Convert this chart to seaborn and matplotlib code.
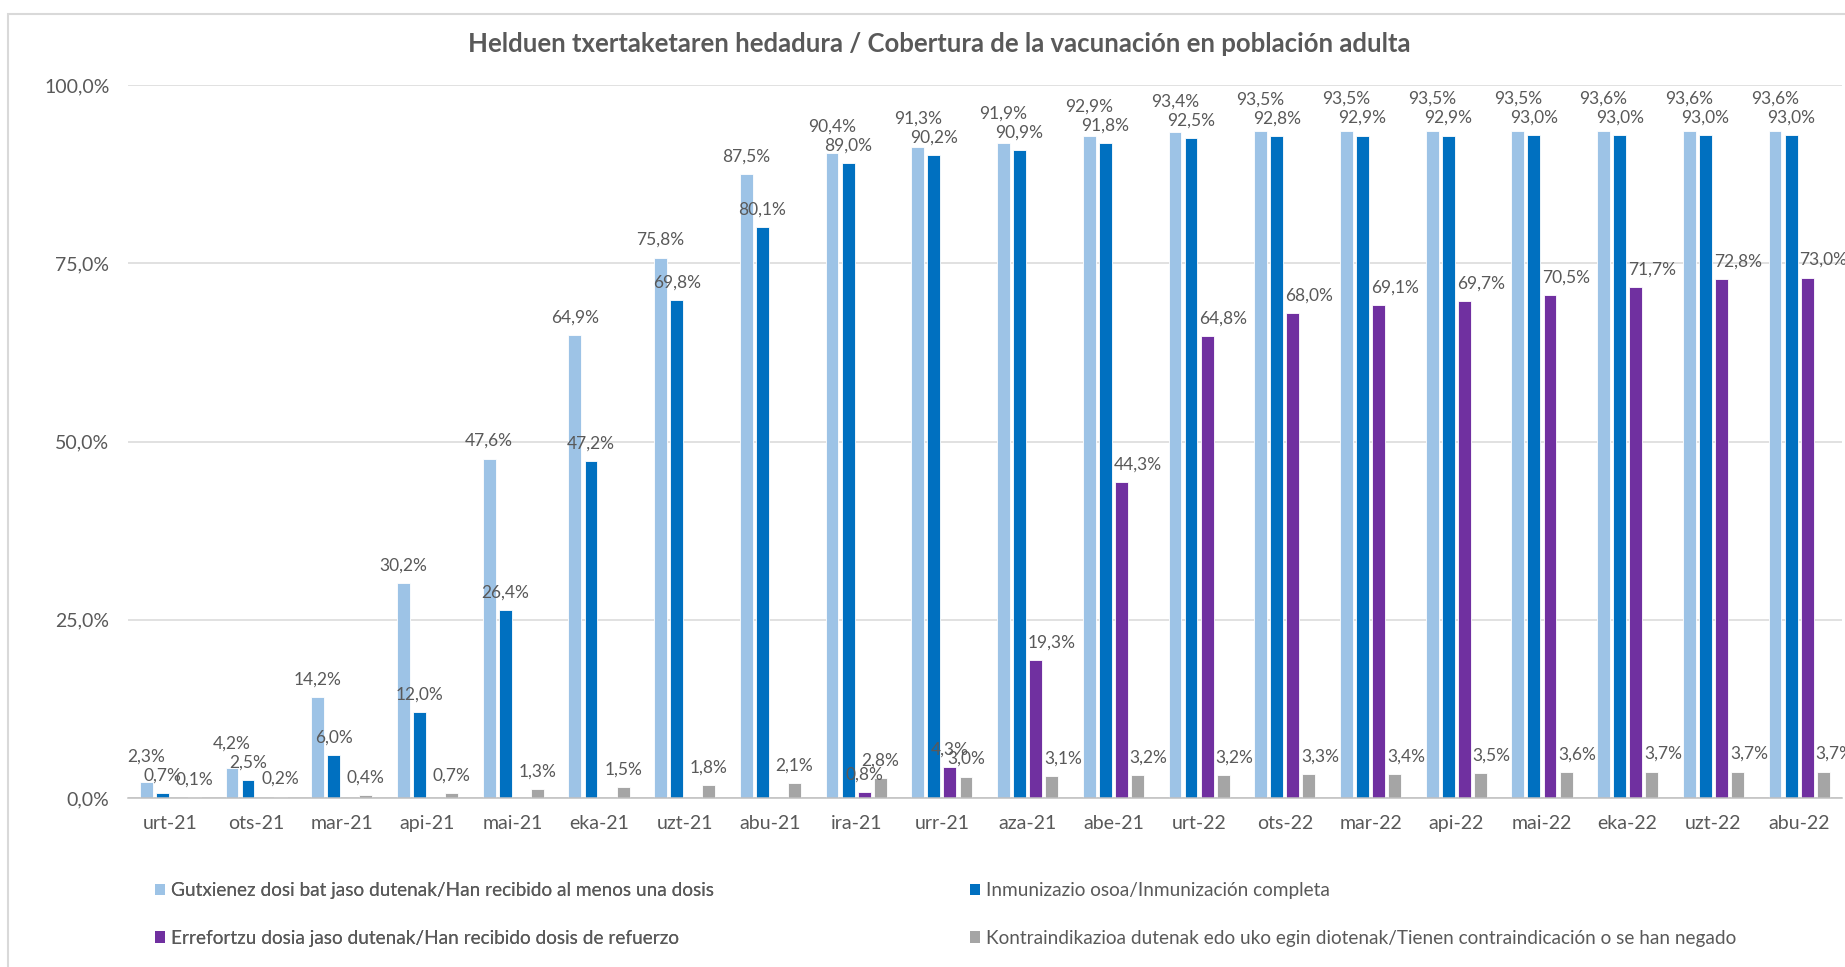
import matplotlib
matplotlib.use("Agg")
import matplotlib.pyplot as plt
from matplotlib.patches import Patch, Rectangle
import seaborn as sns
import pandas as pd
import numpy as np

# --- data ---
months = ["urt-21", "ots-21", "mar-21", "api-21", "mai-21", "eka-21", "uzt-21",
          "abu-21", "ira-21", "urr-21", "aza-21", "abe-21", "urt-22", "ots-22",
          "mar-22", "api-22", "mai-22", "eka-22", "uzt-22", "abu-22"]

series_names = [
    "Gutxienez dosi bat jaso dutenak/Han recibido al menos una dosis",
    "Inmunizazio osoa/Inmunización completa",
    "Errefortzu dosia jaso dutenak/Han recibido dosis de refuerzo",
    "Kontraindikazioa dutenak edo uko egin diotenak/Tienen contraindicación o se han negado",
]

one_dose = [2.3, 4.2, 14.2, 30.2, 47.6, 64.9, 75.8, 87.5, 90.4, 91.3,
            91.9, 92.9, 93.4, 93.5, 93.5, 93.5, 93.5, 93.6, 93.6, 93.6]
complete = [0.7, 2.5, 6.0, 12.0, 26.4, 47.2, 69.8, 80.1, 89.0, 90.2,
            90.9, 91.8, 92.5, 92.8, 92.9, 92.9, 93.0, 93.0, 93.0, 93.0]
booster = [np.nan] * 8 + [0.8, 4.3, 19.3, 44.3, 64.8, 68.0, 69.1, 69.7,
                          70.5, 71.7, 72.8, 73.0]
refused = [0.1, 0.2, 0.4, 0.7, 1.3, 1.5, 1.8, 2.1, 2.8, 3.0,
           3.1, 3.2, 3.2, 3.3, 3.4, 3.5, 3.6, 3.7, 3.7, 3.7]

colors = ["#9DC3E6", "#0070C0", "#7030A0", "#A5A5A5"]
text_color = "#595959"

df = pd.DataFrame({
    "month": months * 4,
    "serie": sum([[s] * len(months) for s in series_names], []),
    "value": one_dose + complete + booster + refused,
})

sns.set_style("white")
plt.rcParams["font.family"] = ["Lato", "DejaVu Sans"]

W, H = 1845, 967
fig = plt.figure(figsize=(W / 100, H / 100), dpi=100)
ax = fig.add_axes([127.5 / W, 1 - 798 / H, (1842 - 127.5) / W, 713 / H])

sns.barplot(data=df, x="month", y="value", hue="serie", order=months,
            hue_order=series_names, palette=colors, saturation=1,
            width=0.75, gap=0.2, errorbar=None, legend=False,
            edgecolor="white", linewidth=0.6, ax=ax, zorder=3)

ax.set_ylim(0, 100)
ax.set_xlim(-0.5, len(months) - 0.5)
ax.set_yticks([0, 25, 50, 75, 100])
ax.set_yticklabels([f"{v:.1f}%".replace(".", ",") for v in [0, 25, 50, 75, 100]])
ax.set_xlabel("")
ax.set_ylabel("")
ax.grid(axis="y", color="#D9D9D9", linewidth=1.1, zorder=0)
ax.set_axisbelow(True)
for side in ["top", "right", "left"]:
    ax.spines[side].set_visible(False)
ax.spines["bottom"].set_color("#BFBFBF")
ax.spines["bottom"].set_linewidth(1.1)
ax.spines["bottom"].set_zorder(4)

ax.tick_params(axis="x", which="major", length=0, pad=12, labelsize=14, labelcolor=text_color)
ax.set_xticks(np.arange(-0.5, len(months)), minor=True)
ax.tick_params(axis="x", which="minor", length=6, color="#BFBFBF", width=1.1)
ax.tick_params(axis="y", length=0, pad=13, labelsize=14, labelcolor=text_color)

# data labels, Excel-like "outside end"
fig.canvas.draw()
renderer = fig.canvas.get_renderer()
ppu = ax.get_window_extent().height / 100.0      # pixels per percent
ppx = ax.get_window_extent().width / len(months)  # pixels per category
base_off = 12.5 / ppu
push = 19 / ppu
lab_size = 12.5

def fmt(v):
    return f"{v:.1f}%".replace(".", ",")

def put(bar, y):
    return ax.text(bar.get_x() + bar.get_width() / 2, y, fmt(bar.get_height()),
                   ha="center", va="baseline", fontsize=lab_size, color=text_color,
                   zorder=5, clip_on=False)

light_bars, blue_bars, boost_bars, ref_bars = ax.containers[:4]

# light-blue labels pushed up when they would sit on the dark-blue ones
for bl, bb in zip(light_bars, blue_bars):
    yb = bb.get_height() + base_off
    put(bb, yb)
    put(bl, max(bl.get_height() + base_off, yb + push))

def nudge_right(txt, neighbour):
    # slide a label right of a taller neighbour bar, like Excel does
    tb = txt.get_window_extent(renderer)
    nb = neighbour.get_window_extent(renderer)
    if nb.y1 > tb.y0 and tb.x0 < nb.x1 + 2:
        dx = (nb.x1 + 2 - tb.x0) / ppx
        x, y = txt.get_position()
        txt.set_position((x + dx, y))

boost_by_x = {}
for b in boost_bars:
    h = b.get_height()
    if np.isnan(h):
        continue
    i = int(round(b.get_x() + b.get_width() / 2))
    boost_by_x[i] = b

for i, b in boost_by_x.items():
    t = put(b, b.get_height() + base_off)
    if b.get_height() > refused[i] + 5:
        nudge_right(t, blue_bars[i])

for i, b in enumerate(ref_bars):
    t = put(b, b.get_height() + base_off)
    if i in boost_by_x and boost_by_x[i].get_height() > b.get_height():
        nudge_right(t, boost_by_x[i])

# title
fig.text(939 / W, 1 - 44 / H, "Helduen txertaketaren hedadura / Cobertura de la vacunación en población adulta",
         ha="center", va="center", fontsize=18.5, fontweight="bold", color=text_color)

# legend: two single-column legends to pin the column positions
handles = [Patch(facecolor=c, edgecolor="none") for c in colors]
leg_kw = dict(frameon=False, fontsize=13.7, handlelength=0.5, handleheight=0.55,
              handletextpad=0.35, labelspacing=1.62, borderpad=0, borderaxespad=0,
              loc="upper left", labelcolor=text_color)
leg1 = fig.legend([handles[0], handles[2]], [series_names[0], series_names[2]],
                  bbox_to_anchor=(155 / W, 1 - 882 / H), **leg_kw)
fig.add_artist(leg1)
fig.legend([handles[1], handles[3]], [series_names[1], series_names[3]],
           bbox_to_anchor=(970 / W, 1 - 882 / H), **leg_kw)

# outer chart frame (cropped at right/bottom as in the reference)
fig.add_artist(Rectangle((8 / W, -0.1), 2, 1 - 14 / H + 0.1, transform=fig.transFigure,
                         fill=False, edgecolor="#D9D9D9", linewidth=1.5))

fig.savefig("out.png", dpi=100)
plt.close(fig)
